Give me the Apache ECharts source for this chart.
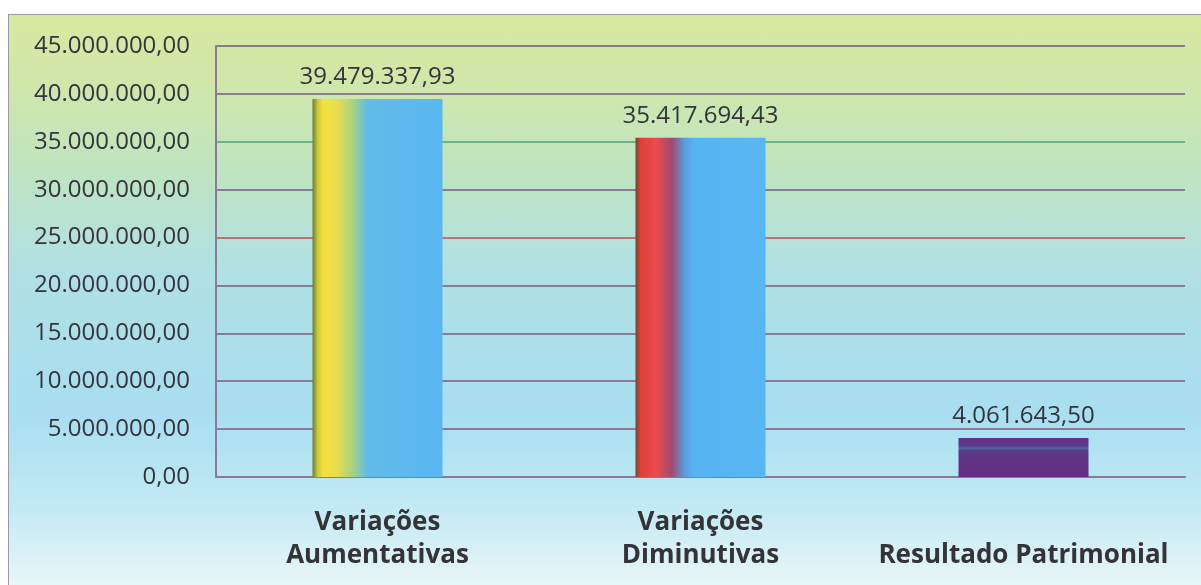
<!DOCTYPE html>
<html><head><meta charset="utf-8">
<script src="https://cdn.jsdelivr.net/npm/echarts@6/dist/echarts.min.js"></script>
<style>
html,body{margin:0;padding:0;background:#fff;width:1201px;height:585px;overflow:hidden;}
#bg{position:absolute;left:8px;top:14px;width:1193px;height:571px;border-left:1px solid #9a98a8;border-top:1px solid #9a98a8;box-sizing:border-box;
background:linear-gradient(to bottom,#d8e8a0 0%,#d0e7aa 12%,#bfe4c2 28%,#b0e0e4 45%,#a8def0 70%,#c2e9f4 86%,#e8f6f8 100%);}
#chart{position:absolute;left:0;top:0;width:1201px;height:585px;}
</style></head>
<body>
<div id="bg"></div>
<div id="chart"></div>
<script>
const categories = ["Variações\nAumentativas", "Variações\nDiminutivas", "\nResultado Patrimonial"];
const values = [39479337.93, 35417694.43, 4061643.50];
const yTicks = { min: 0, max: 45000000, interval: 5000000 };

function fmt(v){
  const s = Number(v).toFixed(2).split('.');
  return s[0].replace(/\B(?=(\d{3})+(?!\d))/g, '.') + ',' + s[1];
}
const barFills = [
  {type:'linear',x:0,y:0,x2:1,y2:0,colorStops:[
    {offset:0,color:'#6f7a34'},{offset:0.04,color:'#c8c83a'},{offset:0.08,color:'#f4e03c'},
    {offset:0.2,color:'#e4dc50'},{offset:0.32,color:'#9ed28a'},{offset:0.42,color:'#62bce8'},{offset:1,color:'#58b6f2'}]},
  {type:'linear',x:0,y:0,x2:1,y2:0,colorStops:[
    {offset:0,color:'#6a4a30'},{offset:0.04,color:'#e0403a'},{offset:0.16,color:'#ec4a4c'},
    {offset:0.28,color:'#a04a70'},{offset:0.38,color:'#5a9ee0'},{offset:0.45,color:'#56b4f2'},{offset:1,color:'#58b6f2'}]},
  {type:'linear',x:0,y:0,x2:0,y2:1,colorStops:[
    {offset:0,color:'#6a2a88'},{offset:0.2,color:'#5a3a8e'},{offset:0.26,color:'#4a6aa8'},
    {offset:0.32,color:'#5a3a8a'},{offset:1,color:'#6a2a84'}]}
];
const gridColors = ['#8a7a98','#8a7a98','#8a7a98','#8a7a98','#8a7a98','#d06a70','#8a7a98','#6ab48a','#8a7a98','#8a7a98'];

const chart = echarts.init(document.getElementById('chart'));
chart.setOption({
  backgroundColor:'transparent',
  animation:false,
  grid:{left:216,top:46,right:16,bottom:108},
  xAxis:{
    type:'category', data:categories,
    axisLine:{show:true,lineStyle:{color:'#8a7a98',width:2}},
    axisTick:{show:false},
    axisLabel:{interval:0,hideOverlap:false,fontFamily:'Open Sans',fontWeight:'bold',fontSize:26,color:'#333338',lineHeight:33,margin:29}
  },
  yAxis:{
    type:'value', min:yTicks.min, max:yTicks.max, interval:yTicks.interval,
    axisLine:{show:true,lineStyle:{color:'#8a7a98',width:2}},
    axisTick:{show:false},
    splitLine:{show:true,lineStyle:{color:gridColors,width:2}},
    axisLabel:{formatter:fmt,fontFamily:'Open Sans',fontSize:24,color:'#34343c',margin:26}
  },
  series:[{
    type:'bar', barWidth:130,
    data: values.map((v,i)=>({value:v,itemStyle:{color:barFills[i]}})),
    label:{show:true,position:'top',distance:10,formatter:p=>fmt(p.value),
      fontFamily:'Open Sans',fontSize:24,color:'#34343c'}
  }]
});
</script>
</body></html>
